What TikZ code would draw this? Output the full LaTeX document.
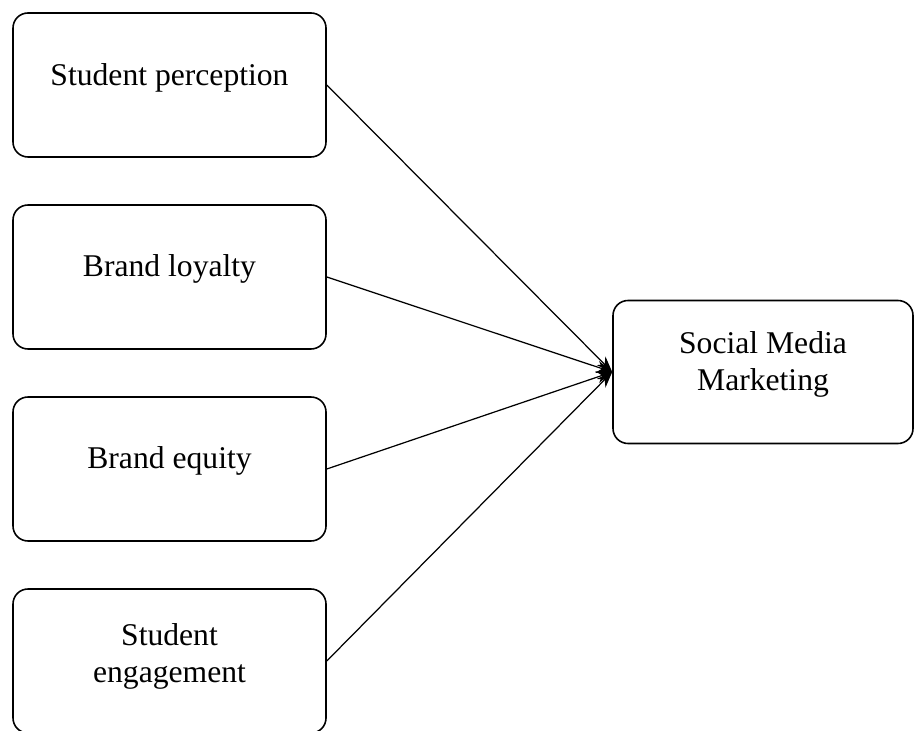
\documentclass[tikz,border=0pt]{standalone}
\usepackage{fontspec}
\setmainfont{Liberation Serif}
\usepackage{tikz}
\usetikzlibrary{arrows.meta}
\tikzstyle{factor} = [rectangle, rounded corners=0.3cm, minimum width=6.26cm, minimum height=2.88cm, draw=black, line width=0.9pt]
\tikzstyle{outcome} = [rectangle, rounded corners=0.3cm, minimum width=6cm, minimum height=2.86cm, draw=black, line width=0.9pt]
\tikzstyle{caption} = [text centered, align=center, inner sep=0pt, font=\fontsize{18}{21}\selectfont]
\tikzstyle{arrow} = [line width=0.7pt, -{Stealth[length=9pt, width=7pt]}]

\begin{document}
\begin{tikzpicture}[node distance=3.84cm]
    \useasboundingbox (0,0) rectangle (18.28,-14.62);

        % Cajas
        \node (perception) [factor] at (3.39,-1.70) {};
        \node (loyalty) [factor, below of=perception] {};
        \node (equity) [factor, below of=loyalty] {};
        \node (engagement) [factor, below of=equity] {};
        \node (smm) [outcome] at (15.26,-7.44) {};

        % Textos
        \node (perceptiontext) [caption] at ([yshift=0.15cm]perception.center) {Student perception};
        \node (loyaltytext) [caption] at ([yshift=0.17cm]loyalty.center) {Brand loyalty};
        \node (equitytext) [caption] at ([yshift=0.17cm]equity.center) {Brand equity};
        \node (engagementtext) [caption] at ([yshift=0.1cm]engagement.center) {Student\\engagement};
        \node (smmtext) [caption] at ([yshift=0.16cm]smm.center) {Social Media\\Marketing};

        % Conexiones
        \draw [arrow] (perception.east) -- (smm.west);
        \draw [arrow] (loyalty.east) -- (smm.west);
        \draw [arrow] (equity.east) -- (smm.west);
        \draw [arrow] (engagement.east) -- (smm.west);

    \end{tikzpicture}
\end{document}
